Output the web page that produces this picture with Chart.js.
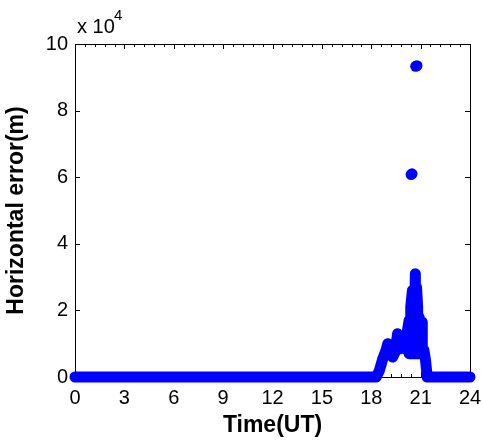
<!DOCTYPE html>
<html>
<head>
<meta charset="utf-8">
<script src="https://cdn.jsdelivr.net/npm/chart.js@4/dist/chart.umd.min.js"></script>
<style>
  html, body { margin: 0; padding: 0; background: #fff; }
  #wrap { width: 483px; height: 441px; }
</style>
</head>
<body>
<div id="wrap"><canvas id="chart" width="483" height="441"></canvas></div>
<script>
// time in hours (UT), error in units of 1e4 m
var traceTimes = [0, 18.3, 18.5, 18.7, 18.9, 19.0, 19.15, 19.3, 19.45, 19.6, 19.7, 19.8, 20.0,
  20.2, 20.2, 20.3, 20.3, 20.4, 20.4, 20.5, 20.5, 20.6, 20.68, 20.68, 20.75, 20.75,
  20.82, 20.82, 20.9, 20.9, 20.96, 20.96, 21.02, 21.02, 21.1, 21.1, 21.2, 21.3, 21.4, 24];
var traceErrors = [0, 0, 0.2, 0.55, 0.8, 1.0, 0.75, 0.6, 0.75, 1.3, 1.2, 0.85, 0.9,
  0.8, 1.4, 1.7, 0.7, 0.7, 2.1, 2.6, 0.7, 0.7, 3.1, 0.7, 0.7, 2.7,
  2.1, 0.7, 0.7, 1.8, 1.7, 0.8, 0.8, 1.65, 1.65, 0.8, 0.8, 0.5, 0, 0];
var outlierTimes = [20.42, 20.48, 20.7, 20.78];
var outlierErrors = [6.08, 6.1, 9.33, 9.35];

var xTicks = [0, 3, 6, 9, 12, 15, 18, 21, 24];
var yTicks = [0, 2, 4, 6, 8, 10];

var blue = "#0000ff";

function toPoints(xs, ys) {
  var pts = [];
  for (var i = 0; i < xs.length; i++) {
    pts.push({ x: xs[i], y: ys[i] });
  }
  return pts;
}

// matlab style box with inward ticks
var boxPlugin = {
  id: "box",
  beforeDatasetsDraw: function (chart) {
    var ctx = chart.ctx;
    var a = chart.chartArea;
    var xs = chart.scales.x;
    var ys = chart.scales.y;
    ctx.save();
    ctx.strokeStyle = "#000";
    ctx.lineWidth = 1;
    ctx.strokeRect(a.left + 0.5, a.top + 0.5, a.right - a.left, a.bottom - a.top);
    ctx.beginPath();
    // minor x ticks every 0.6 h
    for (var m = 0; m <= 40; m++) {
      var px = Math.round(xs.getPixelForValue(m * 0.6)) + 0.5;
      var len = m % 5 === 0 ? 5 : 3;
      ctx.moveTo(px, a.bottom);
      ctx.lineTo(px, a.bottom - len);
      ctx.moveTo(px, a.top);
      ctx.lineTo(px, a.top + len);
    }
    yTicks.forEach(function (v) {
      var py = Math.round(ys.getPixelForValue(v)) + 0.5;
      ctx.moveTo(a.left, py);
      ctx.lineTo(a.left + 5, py);
      ctx.moveTo(a.right, py);
      ctx.lineTo(a.right - 5, py);
    });
    ctx.stroke();
    ctx.restore();
  },
  afterDraw: function (chart) {
    var ctx = chart.ctx;
    var a = chart.chartArea;
    ctx.save();
    ctx.fillStyle = "#000";
    ctx.textBaseline = "alphabetic";
    ctx.font = "20px 'Liberation Sans', Arial, sans-serif";
    ctx.fillText("x 10", a.left + 2, 33);
    ctx.font = "15px 'Liberation Sans', Arial, sans-serif";
    ctx.fillText("4", a.left + 39, 20);
    ctx.restore();
  },
};

var ctx = document.getElementById("chart").getContext("2d");
var chart = new Chart(ctx, {
  type: "scatter",
  data: {
    datasets: [
      {
        data: toPoints(traceTimes, traceErrors),
        showLine: true,
        borderColor: blue,
        borderWidth: 11,
        borderCapStyle: "round",
        borderJoinStyle: "round",
        pointRadius: 0,
        clip: false,
      },
      {
        data: toPoints(outlierTimes, outlierErrors),
        backgroundColor: blue,
        borderWidth: 0,
        pointRadius: 5.5,
        clip: false,
      },
    ],
  },
  options: {
    responsive: false,
    animation: false,
    layout: { padding: { top: 44, right: 13, left: 0, bottom: 0 } },
    plugins: {
      legend: { display: false },
      tooltip: { enabled: false },
    },
    scales: {
      x: {
        type: "linear",
        min: 0,
        max: 24,
        afterFit: function (scale) {
          scale.height = 64;
          scale.paddingLeft = 0;
          scale.paddingRight = 0;
        },
        afterBuildTicks: function (scale) {
          scale.ticks = xTicks.map(function (v) { return { value: v }; });
        },
        grid: { display: false, drawTicks: false },
        border: { display: false },
        ticks: {
          color: "#000",
          padding: 9,
          font: { family: "'Liberation Sans', Arial, sans-serif", size: 20 },
          maxRotation: 0,
        },
        title: {
          display: true,
          text: "Time(UT)",
          color: "#000",
          padding: { top: 0, bottom: 2 },
          font: { family: "'Liberation Sans', Arial, sans-serif", size: 23, weight: "bold" },
        },
      },
      y: {
        type: "linear",
        min: 0,
        max: 10,
        afterFit: function (scale) {
          scale.width = 75;
          scale.paddingTop = 0;
          scale.paddingBottom = 0;
        },
        afterBuildTicks: function (scale) {
          scale.ticks = yTicks.map(function (v) { return { value: v }; });
        },
        grid: { display: false, drawTicks: false },
        border: { display: false },
        ticks: {
          color: "#000",
          padding: 7,
          font: { family: "'Liberation Sans', Arial, sans-serif", size: 20 },
        },
        title: {
          display: true,
          text: "Horizontal error(m)",
          color: "#000",
          padding: { top: 3, bottom: 0 },
          font: { family: "'Liberation Sans', Arial, sans-serif", size: 23, weight: "bold" },
        },
      },
    },
  },
  plugins: [boxPlugin],
});
</script>
</body>
</html>
